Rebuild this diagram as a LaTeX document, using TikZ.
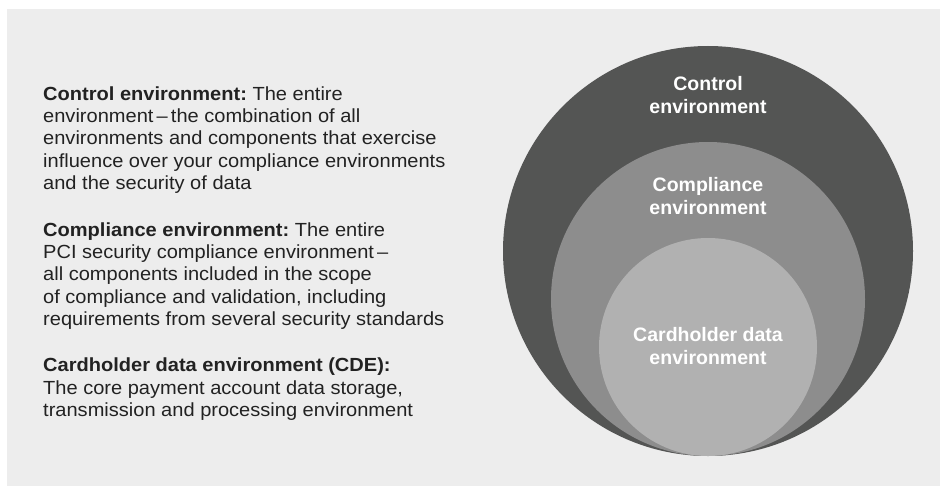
\documentclass[tikz,border=0pt]{standalone}
\usepackage{fontspec}
\setmainfont{Liberation Sans}
\newfontfamily\widebody[FakeStretch=1.055,Ligatures=TeX]{Liberation Sans}
\begin{document}
\definecolor{panelgray}{HTML}{EDEDED}
\definecolor{outerring}{HTML}{545554}
\definecolor{middlering}{HTML}{8D8D8D}
\definecolor{innerring}{HTML}{B1B1B1}
\definecolor{bodytext}{HTML}{222222}
\begin{tikzpicture}[x=1pt,y=-1pt,
  para/.style={anchor=base west,inner sep=0pt,text=bodytext,font=\widebody\fontsize{19}{22}\selectfont},
  ringlabel/.style={anchor=base,inner sep=0pt,text=white,font=\fontsize{19.5}{23}\selectfont\bfseries},
  ring/.style={draw=none}]
  % page and panel
  \useasboundingbox (0,0) rectangle (940,487);
  \fill[white] (0,0) rectangle (940,487);
  \fill[panelgray] (7,9) rectangle (940,486);

  % nested environments, all touching at the bottom
  \fill[ring,outerring] (708,251) circle (205pt);
  \fill[ring,middlering] (708,299) circle (157pt);
  \fill[ring,innerring] (708,347) circle (109pt);

  % labels inside the circles
  \node[ringlabel] (ctl1) at (708,90.5) {Control};
  \node[ringlabel] (ctl2) at (708,113.5) {environment};
  \node[ringlabel] (cmp1) at (708,191.5) {Compliance};
  \node[ringlabel] (cmp2) at (708,214.5) {environment};
  \node[ringlabel] (cde1) at (708,341.5) {Cardholder data};
  \node[ringlabel] (cde2) at (708,364.5) {environment};

  % definitions
  \node[para] (a1) at (43,100) {\textbf{Control environment:}~The entire};
  \node[para] (a2) at (43,122.4) {environment\,–\,the combination of all};
  \node[para] (a3) at (43,144.8) {environments and components that exercise};
  \node[para] (a4) at (43,167.2) {influence over your compliance environments};
  \node[para] (a5) at (43,189.6) {and the security of data};

  \node[para] (b1) at (43,236) {\textbf{Compliance environment:}~The entire};
  \node[para] (b2) at (43,258.4) {PCI security compliance environment\,–};
  \node[para] (b3) at (43,280.8) {all components included in the scope};
  \node[para] (b4) at (43,303.2) {of compliance and validation, including};
  \node[para] (b5) at (43,325.6) {requirements from several security standards};

  \node[para] (c1) at (43,371.7) {\textbf{Cardholder data environment (CDE):}};
  \node[para] (c2) at (43,394.1) {The core payment account data storage,};
  \node[para] (c3) at (43,416.5) {transmission and processing environment};
\end{tikzpicture}
\end{document}
